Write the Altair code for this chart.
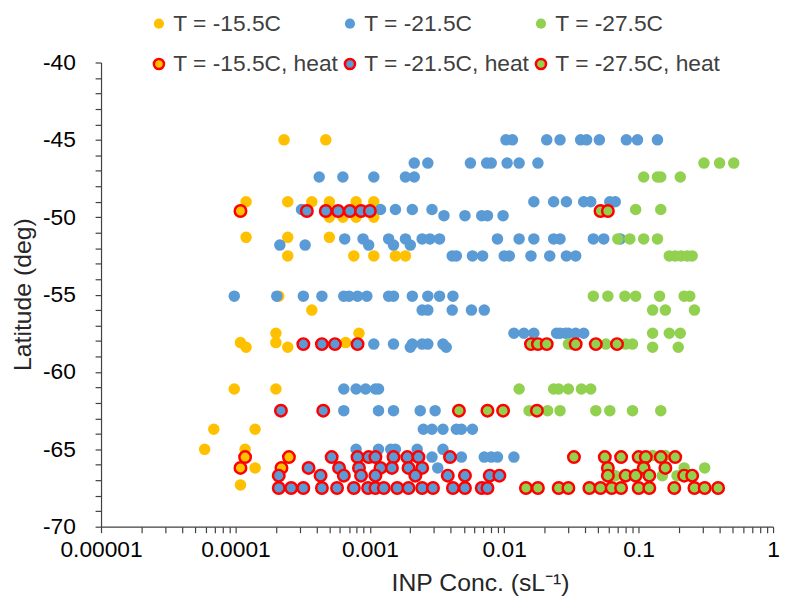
import altair as alt
import pandas as pd

# ---------------- data ----------------
series_names = ["T = -15.5C", "T = -21.5C", "T = -27.5C",
                "T = -15.5C, heat", "T = -21.5C, heat", "T = -27.5C, heat"]
fill_colors = ["#FFC000", "#5B9BD5", "#92D050", "#FFC000", "#5B9BD5", "#92D050"]
stroke_colors = ["transparent", "transparent", "transparent", "#FF0000", "#FF0000", "#FF0000"]

# latitude (deg) -> INP concentrations (sL-1)
yellow = {
    -45.0: [2.3e-4, 4.7e-4],
    -49.0: [1.2e-4, 2.45e-4, 3.7e-4, 5.0e-4, 7.9e-4, 1.07e-3],
    -50.0: [5.0e-4, 6.3e-4, 7.9e-4, 1.07e-3],
    -51.3: [1.2e-4, 2.45e-4, 5.0e-4],
    -52.5: [2.45e-4, 7.6e-4, 1.07e-3, 1.55e-3, 1.84e-3],
    -55.1: [2.1e-4],
    -56.0: [3.7e-4],
    -57.5: [2.0e-4, 8.3e-4],
    -58.1: [1.09e-4, 2.0e-4, 6.6e-4],
    -58.4: [1.2e-4, 2.45e-4],
    -61.1: [9.8e-5, 2.0e-4],
    -63.7: [6.9e-5, 1.4e-4],
    -65.0: [5.9e-5, 1.18e-4],
    -66.2: [1.4e-4],
    -67.3: [1.09e-4],
}
blue = {
    -45.0: [1.03e-2, 1.15e-2, 2.07e-2, 2.6e-2, 3.7e-2, 4.1e-2, 5.1e-2, 8.1e-2, 9.8e-2, 0.138],
    -46.5: [2.14e-3, 2.7e-3, 5.6e-3, 7.4e-3, 8.0e-3, 1.05e-2, 1.29e-2, 1.78e-2],
    -47.4: [4.2e-4, 6.3e-4, 1.07e-3, 1.84e-3, 2.14e-3],
    -49.0: [1.66e-2, 2.33e-2, 2.9e-2, 3.9e-2, 4.4e-2, 6.1e-2, 6.7e-2],
    -49.5: [3.1e-4, 1.2e-3, 1.55e-3, 2.07e-3, 2.9e-3],
    -49.9: [3.56e-3, 5.1e-3, 6.8e-3, 7.5e-3, 9.8e-3],
    -51.4: [6.5e-4, 8.9e-4, 1.38e-3, 1.84e-3, 2.45e-3, 2.8e-3, 3.3e-3, 8.9e-3,
            1.29e-2, 1.66e-2, 2.33e-2, 2.6e-2, 4.6e-2, 5.5e-2, 7.3e-2],
    -51.8: [2.14e-4, 3.3e-4, 9.8e-4, 1.5e-3, 2.0e-3],
    -52.5: [4.1e-3, 4.4e-3, 5.8e-3, 6.9e-3, 1.0e-2, 1.09e-2, 1.58e-2, 2.18e-2, 2.9e-2, 3.4e-2],
    -55.1: [9.8e-5, 2.03e-4, 3.2e-4, 4.4e-4, 6.4e-4, 7.0e-4, 8.1e-4, 9.5e-4, 1.38e-3,
            1.5e-3, 2.07e-3, 2.7e-3, 3.3e-3, 4.15e-3],
    -56.0: [2.45e-3, 2.7e-3, 4.1e-3, 5.7e-3, 7.1e-3],
    -57.5: [1.18e-2, 1.4e-2, 1.66e-2, 2.45e-2, 2.6e-2, 2.86e-2, 3.0e-2, 3.4e-2, 3.9e-2],
    -58.2: [1.07e-3, 1.5e-3, 2.07e-3, 2.45e-3, 2.7e-3, 3.5e-3],
    -58.4: [2.0e-3, 3.7e-3],
    -61.1: [6.4e-4, 7.9e-4, 9.3e-4, 1.1e-3, 1.16e-3],
    -62.5: [6.4e-4, 1.16e-3, 1.5e-3, 2.37e-3, 3.06e-3],
    -63.7: [2.5e-3, 2.9e-3, 3.5e-3, 4.4e-3, 4.8e-3, 5.8e-3],
    -65.0: [7.9e-4, 1.16e-3, 1.43e-3, 1.55e-3, 2.25e-3, 3.5e-3],
    -65.5: [2.9e-3, 4.8e-3, 7.1e-3, 8.0e-3, 8.9e-3, 1.18e-2],
    -66.2: [3.2e-3],
}
green = {
    -46.5: [0.306, 0.40, 0.51],
    -47.4: [0.109, 0.138, 0.146, 0.204],
    -49.5: [9.5e-2, 0.146],
    -51.4: [7.0e-2, 8.6e-2, 0.109, 0.138],
    -52.5: [0.169, 0.187, 0.207, 0.23, 0.25],
    -55.1: [4.6e-2, 5.9e-2, 7.9e-2, 9.5e-2, 0.143, 0.218, 0.24],
    -56.0: [0.127, 0.158, 0.26],
    -57.5: [0.127, 0.169, 0.204],
    -58.2: [3.0e-2, 3.2e-2, 5.7e-2, 8.0e-2, 9.0e-2],
    -58.4: [0.127, 0.197],
    -61.1: [1.29e-2, 2.33e-2, 2.54e-2, 3.0e-2, 3.75e-2, 4.4e-2],
    -62.5: [1.53e-2, 2.1e-2, 2.6e-2, 4.8e-2, 6.1e-2, 9.0e-2, 0.146],
    -65.4: [0.127, 0.158],
    -66.2: [0.218, 0.31],
    -66.7: [6.7e-2, 0.15, 0.193],
}
yellow_heat = {
    -49.6: [1.09e-4],
    -65.5: [1.18e-4, 2.5e-4],
    -66.2: [1.09e-4, 2.2e-4],
}
blue_heat = {
    -49.6: [3.4e-4, 4.7e-4, 5.8e-4, 7.1e-4, 8.6e-4, 1.0e-3],
    -58.2: [3.2e-4, 4.4e-4, 5.5e-4, 8.1e-4],
    -62.5: [2.18e-4, 4.5e-4],
    -65.5: [5.2e-4, 8.1e-4, 9.8e-4, 1.1e-3, 1.5e-3, 1.9e-3, 2.3e-3, 3.95e-3],
    -66.2: [3.5e-4, 5.9e-4, 8.3e-4, 1.2e-3, 1.46e-3, 1.94e-3, 2.45e-3],
    -66.7: [2.1e-4, 4.3e-4, 6.4e-4, 8.6e-4, 1.1e-3, 2.18e-3, 3.8e-3, 5.1e-3, 7.8e-3, 9.2e-3],
    -67.5: [2.1e-4, 2.6e-4, 3.2e-4, 4.4e-4, 5.7e-4, 7.6e-4, 9.7e-4, 1.1e-3, 1.27e-3, 1.6e-3,
            1.94e-3, 2.45e-3, 2.95e-3, 4.15e-3, 5.1e-3, 6.8e-3, 7.5e-3],
}
green_heat = {
    -49.6: [5.2e-2, 5.9e-2],
    -58.2: [1.58e-2, 1.78e-2, 2.07e-2, 3.4e-2, 4.8e-2, 6.9e-2],
    -62.5: [4.6e-3, 7.5e-3, 9.8e-3, 1.75e-2],
    -65.5: [3.3e-2, 5.6e-2, 7.4e-2, 0.1, 0.113, 0.146, 0.187],
    -66.2: [5.9e-2, 0.109, 0.158],
    -66.7: [5.9e-2, 8.0e-2, 9.5e-2, 0.12, 0.218, 0.25],
    -67.5: [1.45e-2, 1.78e-2, 2.54e-2, 3.0e-2, 4.3e-2, 5.2e-2, 6.3e-2, 7.4e-2, 0.1, 0.12,
            0.184, 0.26, 0.31, 0.39],
}

x_major = [0.00001, 0.0001, 0.001, 0.01, 0.1, 1]
y_major = [-70, -65, -60, -55, -50, -45, -40]

# ---------------- build table ----------------
rows = []
for name, d in zip(series_names, [yellow, blue, green, yellow_heat, blue_heat, green_heat]):
    for lat, concs in d.items():
        for c in concs:
            rows.append({"series": name, "lat": lat, "conc": c})
df = pd.DataFrame(rows)

x_ticks = [m * k for m in x_major[:-1] for k in range(1, 10)] + [x_major[-1]]
y_ticks = list(range(y_major[0], y_major[-1] + 1))
major_list = "[" + ",".join(repr(v) for v in x_major) + "]"

FONT = "Liberation Sans"
TXT = "#262626"

legend = alt.Legend(
    title=None, orient="none", legendX=47, legendY=-51, columns=3, direction="horizontal",
    columnPadding=-4, rowPadding=17, labelFont=FONT, labelFontSize=23,
    labelColor="#404040", labelLimit=400, labelOffset=3,
    symbolType="circle", symbolSize=105, symbolStrokeWidth=2.5,
)

chart = alt.Chart(df).mark_point(filled=True, size=135, strokeWidth=2.5, opacity=1).encode(
    x=alt.X("conc:Q",
            scale=alt.Scale(type="log", domain=[x_major[0], x_major[-1]], nice=False),
            axis=alt.Axis(values=x_ticks, title="INP Conc. (sL⁻¹)",
                          labelExpr=f"indexof({major_list}, datum.value) >= 0 ? format(datum.value, '~f') : ''",
                          labelOverlap=False, labelFlush=False, labelBound=False,
                          tickSize=6, labelPadding=6, titlePadding=9, titleX=383)),
    y=alt.Y("lat:Q",
            scale=alt.Scale(domain=[y_major[0], y_major[-1]], nice=False, zero=False),
            axis=alt.Axis(values=y_ticks, title="Latitude (deg)",
                          labelExpr="datum.value % 5 === 0 ? '' + datum.value : ''",
                          labelOverlap=False, tickSize=6, labelPadding=20,
                          titleX=-66, titleY=234)),
    fill=alt.Fill("series:N", scale=alt.Scale(domain=series_names, range=fill_colors), legend=legend),
    stroke=alt.Stroke("series:N", scale=alt.Scale(domain=series_names, range=stroke_colors), legend=legend),
).properties(
    width=679, height=469,
    autosize=alt.AutoSizeParams(type="none"),
    padding={"left": 94, "top": 52, "right": 7, "bottom": 72},
).configure_view(
    stroke="transparent"
).configure_axis(
    grid=False, domainColor="#404040", tickColor="#404040", domainWidth=1.2, tickWidth=1.2,
    labelFont=FONT, labelFontSize=23, labelColor="#000000",
    titleFont=FONT, titleFontSize=25, titleFontWeight="normal", titleColor=TXT,
)

chart.save("out.html", embed_options={"renderer": "svg", "actions": False})
